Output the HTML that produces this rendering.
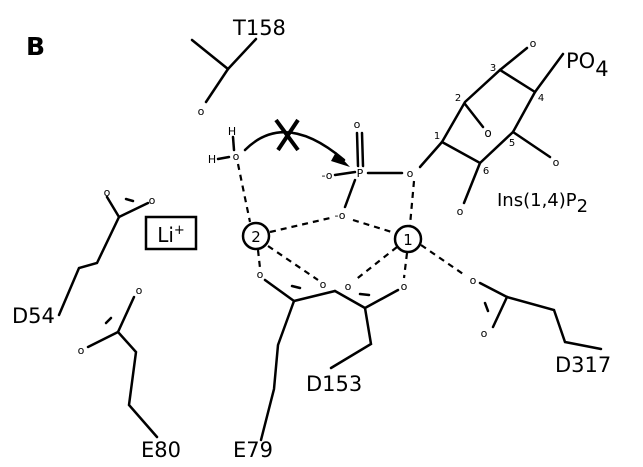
<!DOCTYPE html>
<html><head><meta charset="utf-8"><style>
html,body{margin:0;padding:0;background:#fff;}
svg{display:block;}
text{font-family:"DejaVu Sans","Liberation Sans",sans-serif;fill:#000;}
</style></head><body>
<svg width="643" height="467" viewBox="0 0 643 467" xmlns="http://www.w3.org/2000/svg">
<g stroke="#000" stroke-width="2.5" fill="none" stroke-linecap="round">
<!-- T158 -->
<polyline points="192,40 228,69 256,39"/>
<line x1="228" y1="69" x2="206" y2="102"/>
<!-- water -->
<line x1="233" y1="137" x2="234" y2="150"/>
<line x1="218" y1="159" x2="229" y2="157"/>
<path d="M245,150 Q285,110 344,160"/>
<!-- phosphate -->
<line x1="357" y1="133" x2="358" y2="166"/>
<line x1="362" y1="133" x2="363" y2="166"/>
<line x1="335" y1="175" x2="355" y2="172"/>
<line x1="368" y1="173" x2="402" y2="173"/>
<line x1="355" y1="180" x2="345" y2="207"/>
<line x1="420" y1="167" x2="442" y2="142"/>
<!-- ring -->
<polyline points="442,142 465,102 500,70 535,92 513,132 480,163 442,142"/>
<line x1="465" y1="104" x2="483" y2="127"/>
<line x1="500" y1="70" x2="527" y2="48"/>
<line x1="535" y1="92" x2="563" y2="54"/>
<line x1="513" y1="132" x2="550" y2="157"/>
<line x1="480" y1="163" x2="464" y2="203"/>
<!-- D54 -->
<line x1="107" y1="197" x2="119" y2="217"/>
<line x1="148" y1="203" x2="119" y2="217"/>
<line x1="126" y1="199" x2="133" y2="201"/>
<polyline points="119,217 97,263 79,268 59,315"/>
<!-- E80 -->
<line x1="134" y1="297" x2="118" y2="332"/>
<line x1="88" y1="347" x2="118" y2="332"/>
<line x1="106" y1="323" x2="111" y2="318"/>
<polyline points="118,332 136,352 129,405 157,437"/>
<!-- E79 -->
<line x1="265" y1="280" x2="294" y2="301"/>
<line x1="294" y1="301" x2="335" y2="291"/>
<line x1="292" y1="286" x2="300" y2="288"/>
<polyline points="294,301 278,345 274,389 261,440"/>
<!-- D153 -->
<line x1="335" y1="291" x2="365" y2="308"/>
<line x1="365" y1="308" x2="398" y2="290"/>
<line x1="360" y1="294" x2="369" y2="295"/>
<polyline points="365,308 371,344 331,368"/>
<!-- D317 -->
<line x1="480" y1="283" x2="507" y2="297"/>
<line x1="507" y1="297" x2="493" y2="327"/>
<line x1="485" y1="303" x2="488" y2="311"/>
<polyline points="507,297 554,310 565,342 601,349"/>
<!-- circles -->
<circle cx="256" cy="236" r="13"/>
<circle cx="408" cy="239" r="13"/>
<rect x="146" y="217" width="50" height="32"/>
</g>
<path d="M336,152 L350,167 L331,161 Z" fill="#000"/>
<g stroke="#000" stroke-width="2.2" fill="none" stroke-dasharray="6,5">
<line x1="238" y1="164" x2="250" y2="222"/>
<line x1="414" y1="181" x2="410" y2="225"/>
<line x1="270" y1="232" x2="330" y2="218"/>
<line x1="353" y1="220" x2="395" y2="233"/>
<line x1="258" y1="250" x2="260" y2="268"/>
<line x1="268" y1="246" x2="318" y2="280"/>
<line x1="397" y1="247" x2="354" y2="281"/>
<line x1="407" y1="253" x2="404" y2="278"/>
<line x1="421" y1="245" x2="466" y2="276"/>
</g>
<g stroke="#000" stroke-width="4"><line x1="276" y1="120" x2="298" y2="150"/><line x1="298" y1="120" x2="278" y2="150"/></g>
<text x="26" y="55" font-size="25" font-weight="bold" font-family="Liberation Sans,sans-serif">B</text>
<g font-size="11">
<text x="201" y="115" text-anchor="middle">o</text>
<text x="232" y="135" text-anchor="middle">H</text>
<text x="212" y="163" text-anchor="middle">H</text>
<text x="236" y="160" text-anchor="middle">o</text>
<text x="357" y="128" text-anchor="middle">o</text>
<text x="360" y="177" text-anchor="middle">P</text>
<text x="327" y="179" text-anchor="middle">-o</text>
<text x="410" y="177" text-anchor="middle">o</text>
<text x="340" y="219" text-anchor="middle">-o</text>
<text x="488" y="137" text-anchor="middle" font-size="12">o</text>
<text x="533" y="47" text-anchor="middle">o</text>
<text x="556" y="166" text-anchor="middle">o</text>
<text x="460" y="215" text-anchor="middle">o</text>
<text x="107" y="196" text-anchor="middle">o</text>
<text x="152" y="204" text-anchor="middle">o</text>
<text x="139" y="294" text-anchor="middle">o</text>
<text x="81" y="354" text-anchor="middle">o</text>
<text x="260" y="278" text-anchor="middle">o</text>
<text x="323" y="288" text-anchor="middle">o</text>
<text x="348" y="290" text-anchor="middle">o</text>
<text x="404" y="290" text-anchor="middle">o</text>
<text x="473" y="284" text-anchor="middle">o</text>
<text x="484" y="337" text-anchor="middle">o</text>
</g>
<g font-size="10">
<text x="437" y="139" text-anchor="middle">1</text>
<text x="458" y="101" text-anchor="middle">2</text>
<text x="493" y="71" text-anchor="middle">3</text>
<text x="541" y="101" text-anchor="middle">4</text>
<text x="512" y="146" text-anchor="middle">5</text>
<text x="486" y="174" text-anchor="middle">6</text>
</g>
<g font-size="15">
<text x="256" y="242" text-anchor="middle">2</text>
<text x="408" y="245" text-anchor="middle">1</text>
</g>
<text x="171" y="242" text-anchor="middle" font-size="20">Li<tspan font-size="13" dy="-8">+</tspan></text>
<g font-size="21">
<text x="233" y="35">T158</text>
<text x="566" y="68">PO<tspan dy="8">4</tspan></text>
<text x="497" y="206" font-size="18">Ins(1,4)P<tspan dy="6">2</tspan></text>
<text x="12" y="323">D54</text>
<text x="141" y="457">E80</text>
<text x="233" y="457">E79</text>
<text x="306" y="391">D153</text>
<text x="555" y="372">D317</text>
</g>
</svg>
</body></html>
